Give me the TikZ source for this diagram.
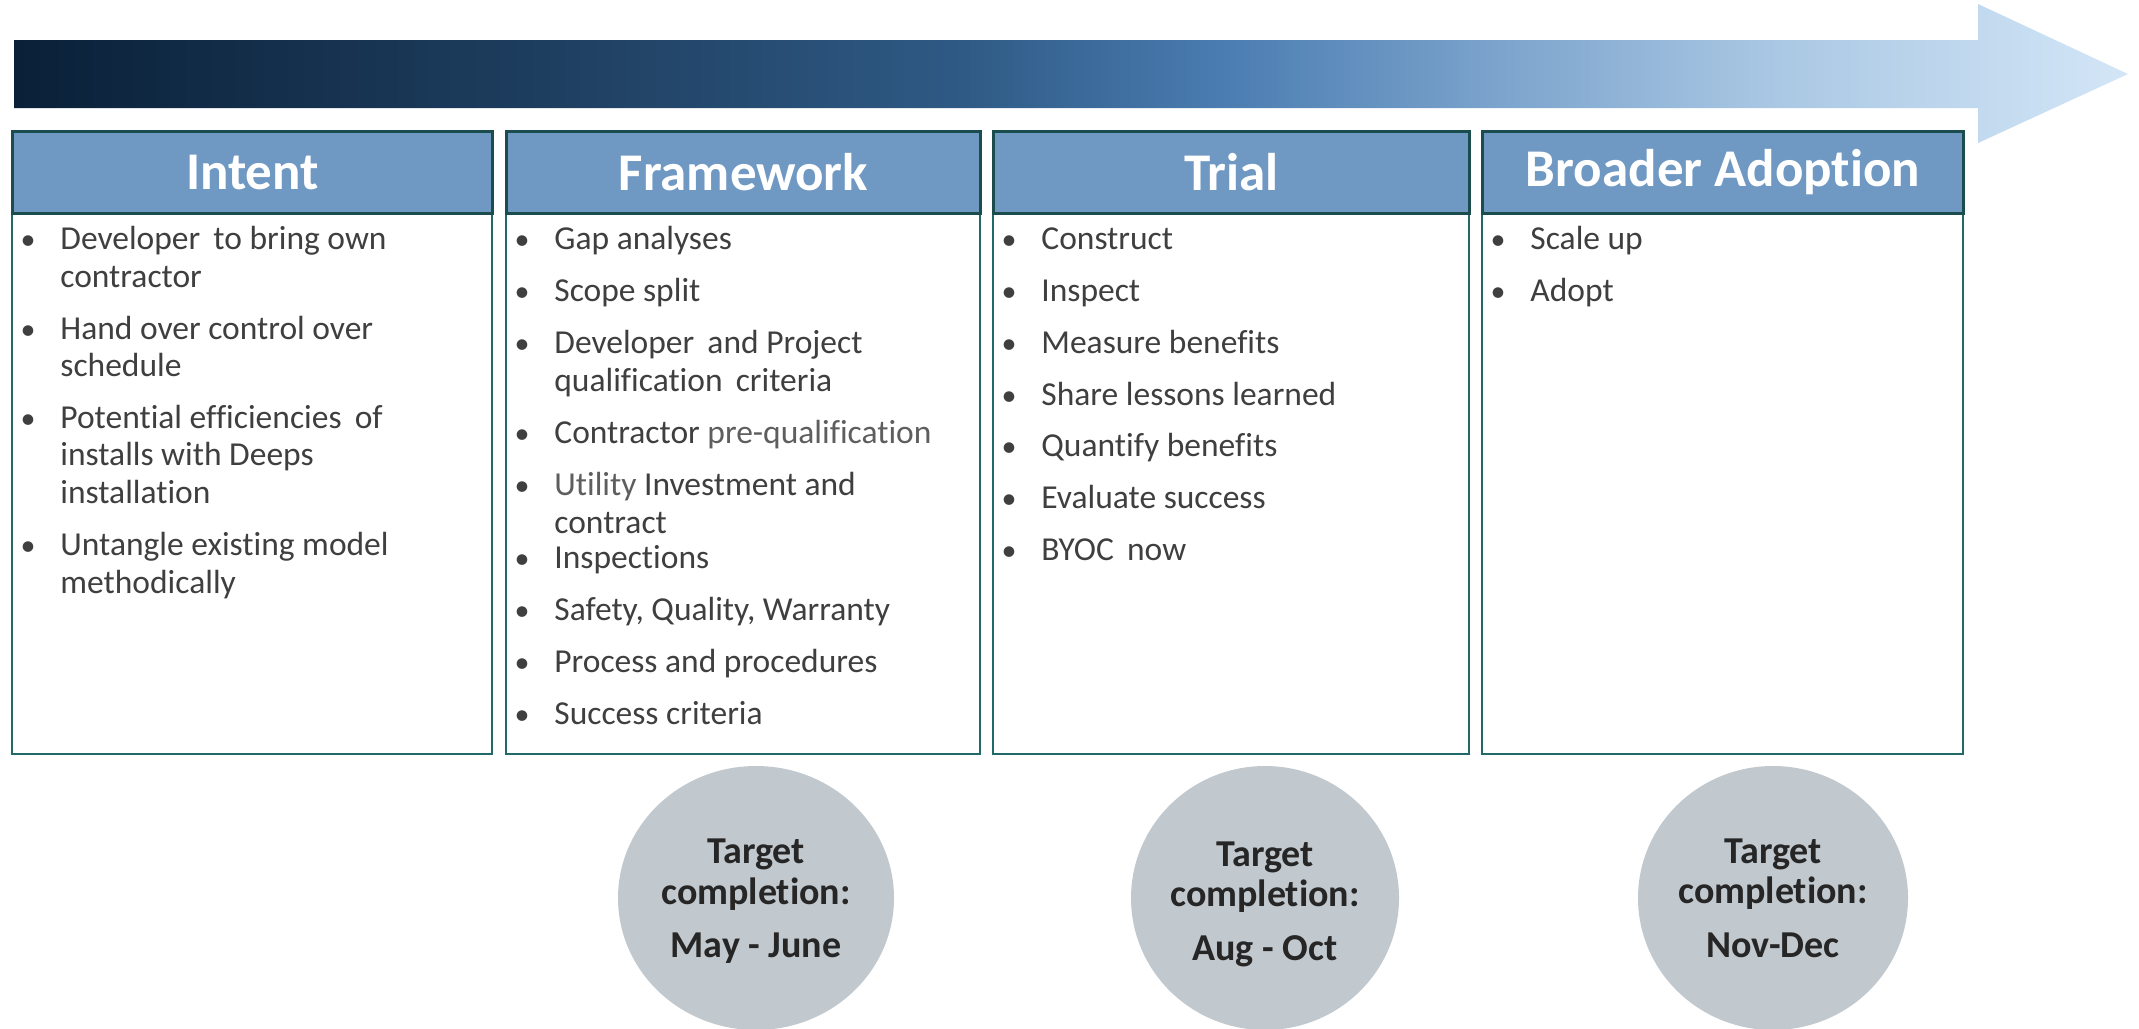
\documentclass[tikz,border=0pt]{standalone}
\usepackage{fontspec}
\setmainfont{Carlito}[RawFeature={-liga}]
\definecolor{hdrfill}{HTML}{6F98C3}
\definecolor{hdrline}{HTML}{1C4D4E}
\definecolor{boxline}{HTML}{22696A}
\definecolor{txt}{HTML}{3F3F3F}
\definecolor{lighttxt}{HTML}{5E5E5E}
\definecolor{circfill}{HTML}{C1C8CE}
\definecolor{circtxt}{HTML}{262626}
\definecolor{a0}{HTML}{0A2038}
\definecolor{a1}{HTML}{1E3E5F}
\definecolor{a2}{HTML}{2F5A85}
\definecolor{a3}{HTML}{4A7CB1}
\definecolor{a4}{HTML}{7BA3CC}
\definecolor{a5}{HTML}{A9C7E3}
\definecolor{a6}{HTML}{D3E6F7}
\pgfdeclarehorizontalshading{arrowshade}{100bp}{color(0bp)=(a0); color(25bp)=(a0); color(37.5bp)=(a1); color(47.5bp)=(a2); color(53.5bp)=(a3); color(60bp)=(a4); color(66.5bp)=(a5); color(75bp)=(a6); color(100bp)=(a6)}
\tikzset{
  hdr/.style={draw=hdrline, line width=1.5pt, fill=hdrfill, text=white, anchor=north west, inner sep=0pt,
    minimum height=41pt, font=\fontsize{26.5}{30}\selectfont\bfseries},
  bodybox/.style={draw=boxline, line width=1.2pt, fill=white, anchor=north west, inner sep=0pt},
  bultxt/.style={anchor=base west, inner sep=0pt, text=txt, font=\fontsize{16.75}{20}\selectfont},
  bulsym/.style={anchor=base, inner sep=0pt, text=txt, font=\fontsize{15}{20}\selectfont},
  circ/.style={fill=circfill},
  ctxt/.style={anchor=base, inner sep=0pt, text=circtxt, font=\fontsize{19}{22}\selectfont\bfseries}
}
\newcommand\bl[4]{\node[bultxt] (#1) at ({#2+49},{#3+9}) {#4};
  \node[bulsym] (#1d) at ({#2+17},{#3+9}) {\textbullet};}
\newcommand\cl[4]{\node[bultxt] (#1) at ({#2+49},{#3+9}) {#4};}
\begin{document}
\begin{tikzpicture}[x=0.5pt,y=-0.5pt]
\useasboundingbox (0,0) rectangle (2139,1028);
% arrow
\shade[shading=arrowshade] (14,40) -- (1978,40) -- (1978,4) -- (2128,74) -- (1978,143) -- (1978,108) -- (14,108) -- cycle;
% columns
\node[bodybox, minimum width=240pt, minimum height=270.5pt] (b1) at (11,212) {};
\node[bodybox, minimum width=237pt, minimum height=270.5pt] (b2) at (505,212) {};
\node[bodybox, minimum width=238pt, minimum height=270.5pt] (b3) at (992,212) {};
\node[bodybox, minimum width=240.5pt, minimum height=270.5pt] (b4) at (1481,212) {};
\node[hdr, minimum width=240pt] (h1) at (11,130) {Intent};
\node[hdr, minimum width=237pt] (h2) at (505,130) {Framework};
\node[hdr, minimum width=238pt] (h3) at (992,130) {Trial};
\node[hdr, minimum width=240.5pt] (h4) at (1481,130) {Broader Adoption};
% Intent
\bl{i1}{11}{240}{Developer\, to bring own}
\cl{i1c}{11}{278}{contractor}
\bl{i2}{11}{330}{Hand over control over}
\cl{i2c}{11}{367}{schedule}
\bl{i3}{11}{419}{Potential efficiencies\, of}
\cl{i3c}{11}{456}{installs with Deeps}
\cl{i3d}{11}{494}{installation}
\bl{i4}{11}{546}{Untangle existing model}
\cl{i4c}{11}{584}{methodically}
% Framework
\bl{f1}{505}{240}{Gap analyses}
\bl{f2}{505}{292}{Scope split}
\bl{f3}{505}{344}{Developer\, and Project}
\cl{f3c}{505}{382}{qualification\, criteria}
\bl{f4}{505}{434}{Contractor {\color{lighttxt}pre-qualification}}
\bl{f5}{505}{486}{{\color{lighttxt}Utility} Investment and}
\cl{f5c}{505}{524}{contract}
\bl{f6}{505}{559}{Inspections}
\bl{f7}{505}{611}{Safety, Quality, Warranty}
\bl{f8}{505}{663}{Process and procedures}
\bl{f9}{505}{715}{Success criteria}
% Trial
\bl{t1}{992}{240}{Construct}
\bl{t2}{992}{292}{Inspect}
\bl{t3}{992}{344}{Measure benefits}
\bl{t4}{992}{396}{Share lessons learned}
\bl{t5}{992}{447}{Quantify benefits}
\bl{t6}{992}{499}{Evaluate success}
\bl{t7}{992}{551}{BYOC\, now}
% Broader
\bl{a1}{1481}{240}{Scale up}
\bl{a2}{1481}{292}{Adopt}
% target circles
\fill[circ] (756,898) ellipse [x radius=138, y radius=132];
\fill[circ] (1265,898) ellipse [x radius=134, y radius=132];
\fill[circ] (1773,898) ellipse [x radius=135, y radius=132];
\node[ctxt] (c1a) at (756,863) {Target};
\node[ctxt] (c1b) at (756,904) {completion:};
\node[ctxt] (c1c) at (756,957) {May - June};
\node[ctxt] (c2a) at (1265,866) {Target};
\node[ctxt] (c2b) at (1265,906) {completion:};
\node[ctxt] (c2c) at (1265,960) {Aug - Oct};
\node[ctxt] (c3a) at (1773,863) {Target};
\node[ctxt] (c3b) at (1773,903) {completion:};
\node[ctxt] (c3c) at (1773,957) {Nov-Dec};
\end{tikzpicture}
\end{document}
